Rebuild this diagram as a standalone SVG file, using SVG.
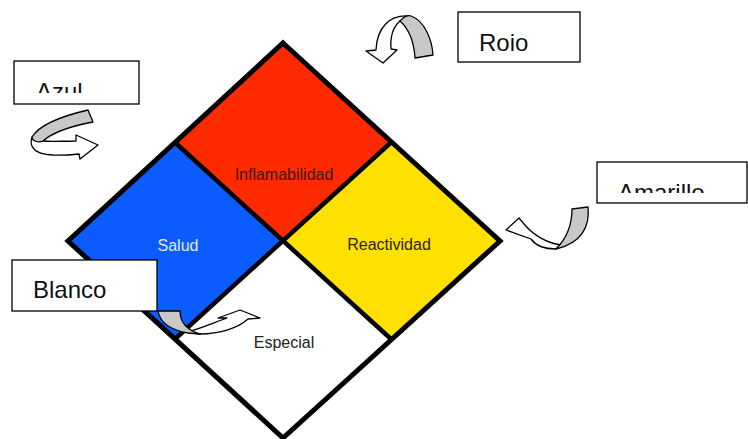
<svg xmlns="http://www.w3.org/2000/svg" width="748" height="439" viewBox="0 0 748 439">
<style>
.lbl{font-family:"Liberation Sans",Arial,sans-serif;font-size:24px;fill:#111}
.dl{font-family:"Liberation Sans",Arial,sans-serif;font-size:16px;text-anchor:middle}
.box{fill:#fff;stroke:#000;stroke-width:1.3}
.aw{fill:#fff;stroke:#000;stroke-width:1.3;stroke-linejoin:round}
.ag{fill:#c8c8c8;stroke:#000;stroke-width:1.3;stroke-linejoin:round}
</style>
<defs>
<clipPath id="cAzul"><rect x="14" y="62" width="125" height="31"/></clipPath>
<clipPath id="cAma"><rect x="597" y="163" width="150" height="30"/></clipPath>
</defs>
<rect width="748" height="439" fill="#fff"/>
<g id="diamond">
<polygon points="283,43 391.5,142 283,241 174.5,142" fill="#ff2a00"/>
<polygon points="391.5,142 500,241 391.5,339.5 283,241" fill="#ffe100"/>
<polygon points="174.5,142 283,241 174.5,339.5 68,241" fill="#0b5cff"/>
<polygon points="283,241 391.5,339.5 283,438 174.5,339.5" fill="#fff"/>
<path d="M174.5,142 L391.5,339.5 M391.5,142 L174.5,339.5" stroke="#000" stroke-width="4.5" fill="none"/>
<polygon points="283,43 500,241 283,438 68,241" fill="none" stroke="#000" stroke-width="5" stroke-linejoin="miter"/>
<text class="dl" x="284" y="180" fill="#3a1a14">Inflamabilidad</text>
<text class="dl" x="178" y="251" fill="#e4e8f4">Salud</text>
<text class="dl" x="389" y="250" fill="#2a2410">Reactividad</text>
<text class="dl" x="284" y="348" fill="#222">Especial</text>
</g>
<g id="azul">
<rect class="box" x="14" y="61" width="125" height="43"/>
<text class="lbl" x="36" y="100" clip-path="url(#cAzul)">Azul</text>
</g>
<g id="roio">
<rect class="box" x="458" y="12" width="122" height="50"/>
<text class="lbl" x="479" y="51">Roio</text>
</g>
<g id="amarillo">
<rect class="box" x="597" y="162" width="150" height="41"/>
<text class="lbl" x="618" y="201" clip-path="url(#cAma)">Amarillo</text>
</g>
<g id="blanco">
<rect class="box" x="12" y="260" width="145" height="51"/>
<text class="lbl" x="33" y="298">Blanco</text>
</g>
<g id="connectors">
<path class="aw" d="M43,141 C52,142 64,141 76,141 L76,135 L98,145 L80,159 L79,154 C60,156 40,156 34,149 C30,145 31,140 32,137 Z"/>
<path class="ag" d="M88,110 L93,122 C72,126 53,132 43,141 C38,143 32,141 32,137 C40,124 62,116 88,110 Z"/>
<path class="aw" d="M408,16 C390,15 377,27 376,50 L366,51 L383,63 L397,50 L391,49 C390,36 393,27 400,21 Z"/>
<path class="ag" d="M400,21 C404,17 408,15 411,16 C425,21 432,40 433,55 L415,58 C414,42 409,29 400,21 Z"/>
<path class="aw" d="M562,245 C549,244 534,236 524,224 L519,218 L506,230 L531,239 C536,246 546,249 556,249 Z"/>
<path class="ag" d="M572,209 L588,207 C590,226 582,243 556,249 C566,239 572,227 572,209 Z"/>
<path class="aw" d="M187,332 C200,329 213,323 227,318 L218,318 L240,310 L260,318 L248,319 C238,328 220,334 200,334 Z"/>
<path class="ag" d="M158,311 L180,311 C180,322 187,330 200,334 L188,333 C170,330 160,322 158,311 Z"/>
</g>
</svg>
